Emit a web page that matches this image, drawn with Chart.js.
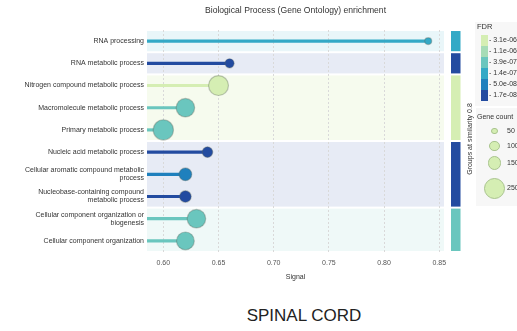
<!DOCTYPE html>
<html>
<head>
<meta charset="utf-8">
<script src="https://cdn.jsdelivr.net/npm/chart.js@4/dist/chart.umd.min.js"></script>
<style>
  body { margin: 0; background: #fff; font-family: "Liberation Sans", Arial, sans-serif; }
  #wrap { position: relative; width: 517px; height: 331px; overflow: hidden; }
  #chart { position: absolute; left: 0; top: 0; }
  .box { position: absolute; background: #f7f7f7; }
  .lbl { position: absolute; font-size: 7px; color: #333; white-space: nowrap; line-height: 8px; }
  .seg { position: absolute; left: 6px; width: 7px; height: 11px; }
  .dot { position: absolute; border-radius: 50%; box-sizing: border-box; background: #d5eeb3; border: 1px solid #a9c48e; }
  #groupsTitle { position: absolute; left: 469px; top: 139px; font-size: 7px; color: #333; white-space: nowrap;
    transform: translate(-50%, -50%) rotate(-90deg); }
  #caption { position: absolute; left: 0; width: 608px; top: 306px; text-align: center; font-size: 17px; color: #222; }
</style>
</head>
<body>
<div id="wrap">
  <canvas id="chart" width="517" height="290"></canvas>
  <div id="groupsTitle">Groups at similarity 0.8</div>
  <div class="box" id="fdrBox" style="left:475px; top:22px; width:60px; height:84px;">
    <div class="lbl" style="left:2px; top:1px; font-size:7.5px;">FDR</div>
  </div>
  <div class="box" id="countBox" style="left:476px; top:108px; width:60px; height:98px;">
    <div class="lbl" style="left:1px; top:5px;">Gene count</div>
  </div>
  <div id="caption">SPINAL CORD</div>
</div>
<script>
(function () {
    // --- Data ---
    const terms = [
        'RNA processing',
        'RNA metabolic process',
        'Nitrogen compound metabolic process',
        'Macromolecule metabolic process',
        'Primary metabolic process',
        'Nucleic acid metabolic process',
        ['Cellular aromatic compound metabolic', 'process'],
        ['Nucleobase-containing compound', 'metabolic process'],
        ['Cellular component organization or', 'biogenesis'],
        'Cellular component organization'
    ];
    const signal = [0.84, 0.66, 0.65, 0.62, 0.60, 0.64, 0.62, 0.62, 0.63, 0.62];
    const geneCount = [55, 85, 235, 215, 240, 105, 135, 120, 215, 205];
    const fdr = [1.4e-7, 1.7e-8, 3.1e-6, 3.9e-7, 3.9e-7, 1.7e-8, 5.0e-8, 1.7e-8, 3.9e-7, 3.9e-7];
    const groupOf = [0, 1, 2, 2, 2, 3, 3, 3, 4, 4];

    const fdrTicks = ['3.1e-06', '1.1e-06', '3.9e-07', '1.4e-07', '5.0e-08', '1.7e-08'];
    const fdrColors = ['#d5eeb3', '#a6dcb6', '#6ac6be', '#33a9c6', '#1f80bd', '#234ba0'];
    const countTicks = [50, 100, 150, 250];

    const xMin = 0.5852, xMax = 0.8543;
    const FONT = '"Liberation Sans", Arial, sans-serif';

    // --- Helpers ---
    function radius(n) { return 1.5 + 0.036 * n; }

    function fdrColor(v) {
        // nearest tick on a log scale
        let best = 0, bestD = Infinity;
        fdrTicks.forEach((t, i) => {
            const d = Math.abs(Math.log10(parseFloat(t)) - Math.log10(v));
            if (d < bestD) { bestD = d; best = i; }
        });
        return fdrColors[best];
    }

    function tint(hex, a) {
        const r = parseInt(hex.slice(1, 3), 16), g = parseInt(hex.slice(3, 5), 16), b = parseInt(hex.slice(5, 7), 16);
        const m = c => Math.round(255 - a * (255 - c));
        return `rgb(${m(r)},${m(g)},${m(b)})`;
    }

    const colors = fdr.map(fdrColor);

    // groups: first and last row, colour of first member
    const groups = [];
    groupOf.forEach((g, i) => {
        if (!groups[g]) groups[g] = { from: i, to: i, color: colors[i] };
        groups[g].to = i;
    });

    // --- Plugin: group bands and side bars ---
    const groupBands = {
        id: 'groupBands',
        beforeDraw(chart) {
            const { ctx, chartArea, scales } = chart;
            const y = scales.y;
            const half = (y.getPixelForValue(1) - y.getPixelForValue(0)) / 2;
            ctx.save();
            groups.forEach(g => {
                const top = y.getPixelForValue(g.from) - half + 1;
                const bottom = y.getPixelForValue(g.to) + half - 1;
                ctx.fillStyle = tint(g.color, g.color === fdrColors[0] ? 0.22 : 0.11);
                ctx.fillRect(chartArea.left, top, chartArea.right - chartArea.left, bottom - top);
                ctx.fillStyle = g.color;
                ctx.fillRect(chartArea.right + 7, top, 9.5, bottom - top);
            });
            ctx.restore();
        }
    };

    // --- Chart ---
    const ctx = document.getElementById('chart').getContext('2d');
    new Chart(ctx, {
        data: {
            labels: terms,
            datasets: [
                {
                    type: 'bubble',
                    data: signal.map((v, i) => ({ x: v, y: i, r: radius(geneCount[i]) })),
                    backgroundColor: colors,
                    borderColor: 'rgba(90,100,90,0.35)',
                    borderWidth: 1.2,
                    clip: false
                },
                {
                    type: 'bar',
                    data: signal.map(v => [xMin, v]),
                    backgroundColor: colors,
                    barThickness: 2.5
                }
            ]
        },
        options: {
            responsive: false,
            animation: false,
            indexAxis: 'y',
            layout: { padding: { left: 0, right: 73, top: 0, bottom: 0 } },
            plugins: {
                legend: { display: false },
                tooltip: { enabled: false },
                title: {
                    display: true,
                    fullSize: false,
                    text: 'Biological Process (Gene Ontology) enrichment',
                    color: '#333',
                    font: { family: FONT, size: 8.6, weight: 'normal' },
                    padding: { top: 5.5, bottom: 14.2 }
                }
            },
            scales: {
                x: {
                    type: 'linear',
                    position: 'bottom',
                    min: xMin,
                    max: xMax,
                    afterBuildTicks(scale) {
                        scale.ticks = [0.60, 0.65, 0.70, 0.75, 0.80, 0.85].map(v => ({ value: v }));
                    },
                    afterFit(scale) { scale.height = 38; },
                    ticks: {
                        color: '#555',
                        padding: 7,
                        font: { family: FONT, size: 7 },
                        callback: v => v.toFixed(2)
                    },
                    grid: { color: '#d9d9d9', drawTicks: false },
                    border: { display: false, dash: [2, 2] },
                    title: {
                        display: true,
                        text: 'Signal',
                        color: '#333',
                        font: { family: FONT, size: 7 },
                        padding: { top: 0, bottom: 9 }
                    }
                },
                y: {
                    type: 'category',
                    offset: true,
                    afterFit(scale) { scale.width = 147; },
                    ticks: {
                        color: '#333',
                        padding: 3,
                        font: { family: FONT, size: 7, lineHeight: 1.15 }
                    },
                    grid: { display: false, drawTicks: false },
                    border: { display: false }
                }
            }
        },
        plugins: [groupBands]
    });

    // --- HTML legends ---
    const fdrBox = document.getElementById('fdrBox');
    fdrTicks.forEach((t, i) => {
        const seg = document.createElement('div');
        seg.className = 'seg';
        seg.style.top = (13 + i * 11) + 'px';
        seg.style.background = fdrColors[i];
        fdrBox.appendChild(seg);
        const l = document.createElement('div');
        l.className = 'lbl';
        l.style.left = '14px';
        l.style.top = (14 + i * 11) + 'px';
        l.textContent = '- ' + t;
        fdrBox.appendChild(l);
    });

    const countBox = document.getElementById('countBox');
    const cy = [23, 38, 55, 80];
    countTicks.forEach((n, i) => {
        const r = radius(n);
        const d = document.createElement('div');
        d.className = 'dot';
        d.style.left = (18.5 - r) + 'px';
        d.style.top = (cy[i] - r) + 'px';
        d.style.width = d.style.height = (2 * r) + 'px';
        countBox.appendChild(d);
        const l = document.createElement('div');
        l.className = 'lbl';
        l.style.left = '31px';
        l.style.top = (cy[i] - 4) + 'px';
        l.textContent = String(n);
        countBox.appendChild(l);
    });
})();
</script>
</body>
</html>
